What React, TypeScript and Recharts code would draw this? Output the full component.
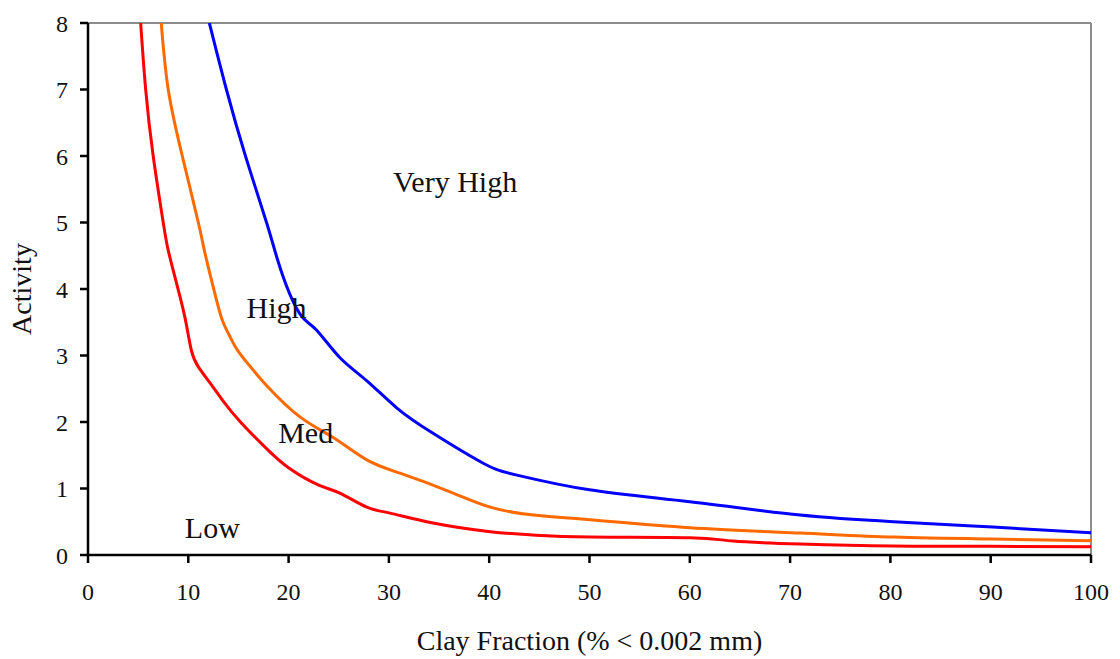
import React from 'react';
import { LineChart, Line, XAxis, YAxis, ReferenceLine, ReferenceDot } from 'recharts';

// Low/Med boundary
const lowX = [5.25, 5.75, 6.5, 7.5, 8.0, 8.84, 9.67, 10.3, 11.0, 12.2, 13.4, 15.2, 17.8, 20.1, 23, 25.1, 27.8, 30.1, 34.4, 40.1, 44.4, 50, 60, 64.3, 71, 80.3, 90, 100];
const lowY = [8, 7, 6, 5, 4.58, 4.08, 3.57, 3.08, 2.83, 2.58, 2.33, 2, 1.6, 1.3, 1.05, 0.93, 0.72, 0.63, 0.48, 0.35, 0.3, 0.27, 0.26, 0.21, 0.165, 0.135, 0.13, 0.125];

// Med/High boundary
const medX = [7.3, 8.0, 9.4, 11.0, 11.6, 12.4, 13.3, 14.0, 14.9, 16.2, 17.8, 21.1, 24.4, 27.8, 31.1, 36.1, 40.1, 44.4, 50, 60, 71, 80.3, 90.2, 100];
const medY = [8, 7, 6, 5, 4.58, 4.08, 3.57, 3.33, 3.08, 2.83, 2.55, 2.08, 1.77, 1.43, 1.23, 0.95, 0.72, 0.6, 0.53, 0.41, 0.33, 0.27, 0.24, 0.215];

// High/Very High boundary
const highX = [12.1, 13.8, 15.7, 17.8, 18.9, 20.1, 21.4, 22.8, 25.1, 27.8, 30.8, 34.4, 39.4, 42.8, 50, 60, 71, 80.3, 90.2, 100];
const highY = [8, 7, 6, 5, 4.44, 3.93, 3.57, 3.38, 2.97, 2.62, 2.21, 1.83, 1.38, 1.2, 0.98, 0.8, 0.6, 0.5, 0.42, 0.335];

const xTicks = [0, 10, 20, 30, 40, 50, 60, 70, 80, 90, 100];
const yTicks = [0, 1, 2, 3, 4, 5, 6, 7, 8];

const zoneNames = ['Very High', 'High', 'Med', 'Low'];
const zoneX = [36.6, 18.8, 21.7, 12.4];
const zoneY = [5.62, 3.72, 1.85, 0.42];

const toPoints = (xs: number[], ys: number[]) => xs.map((x, i) => ({ x, y: ys[i] }));

const FONT = '"Liberation Serif", "Times New Roman", serif';
const tickStyle = { fontSize: 24, fill: '#111', fontFamily: FONT };
const titleStyle = { fontSize: 28, fill: '#111', fontFamily: FONT };

export default function App() {
  return (
    <div style={{ position: 'absolute', left: 0, top: 0, background: '#fff' }}>
      <LineChart width={1120} height={659} margin={{ top: 23, right: 29, bottom: 54, left: 28 }}>
        <XAxis
          type="number"
          dataKey="x"
          domain={[0, 100]}
          ticks={xTicks}
          allowDataOverflow
          stroke="#000"
          strokeWidth={2.5}
          tickSize={8}
          tickMargin={20}
          tick={tickStyle}
          height={50}
          label={{ value: 'Clay Fraction (% < 0.002 mm)', position: 'insideBottom', offset: -45, style: titleStyle }}
        />
        <YAxis
          type="number"
          dataKey="y"
          domain={[0, 8]}
          ticks={yTicks}
          allowDataOverflow
          stroke="#000"
          strokeWidth={2.5}
          tickSize={8}
          tickMargin={12}
          tick={tickStyle}
          width={60}
          label={{ value: 'Activity', angle: -90, position: 'insideLeft', offset: -7, style: { ...titleStyle, textAnchor: 'middle' } }}
        />
        <ReferenceLine y={8} stroke="#8c8c8c" strokeWidth={2} />
        <ReferenceLine x={100} stroke="#8c8c8c" strokeWidth={2} />
        <Line data={toPoints(lowX, lowY)} dataKey="y" type="natural" stroke="#ff0000" strokeWidth={3} dot={false} isAnimationActive={false} />
        <Line data={toPoints(medX, medY)} dataKey="y" type="natural" stroke="#ff6a00" strokeWidth={3} dot={false} isAnimationActive={false} />
        <Line data={toPoints(highX, highY)} dataKey="y" type="natural" stroke="#0000ff" strokeWidth={3} dot={false} isAnimationActive={false} />
        {zoneNames.map((name, i) => (
          <ReferenceDot
            key={name}
            x={zoneX[i]}
            y={zoneY[i]}
            r={0}
            stroke="none"
            fill="none"
            label={{ value: name, position: 'center', style: { fontSize: 30, fill: '#111', fontFamily: FONT } }}
          />
        ))}
      </LineChart>
    </div>
  );
}
